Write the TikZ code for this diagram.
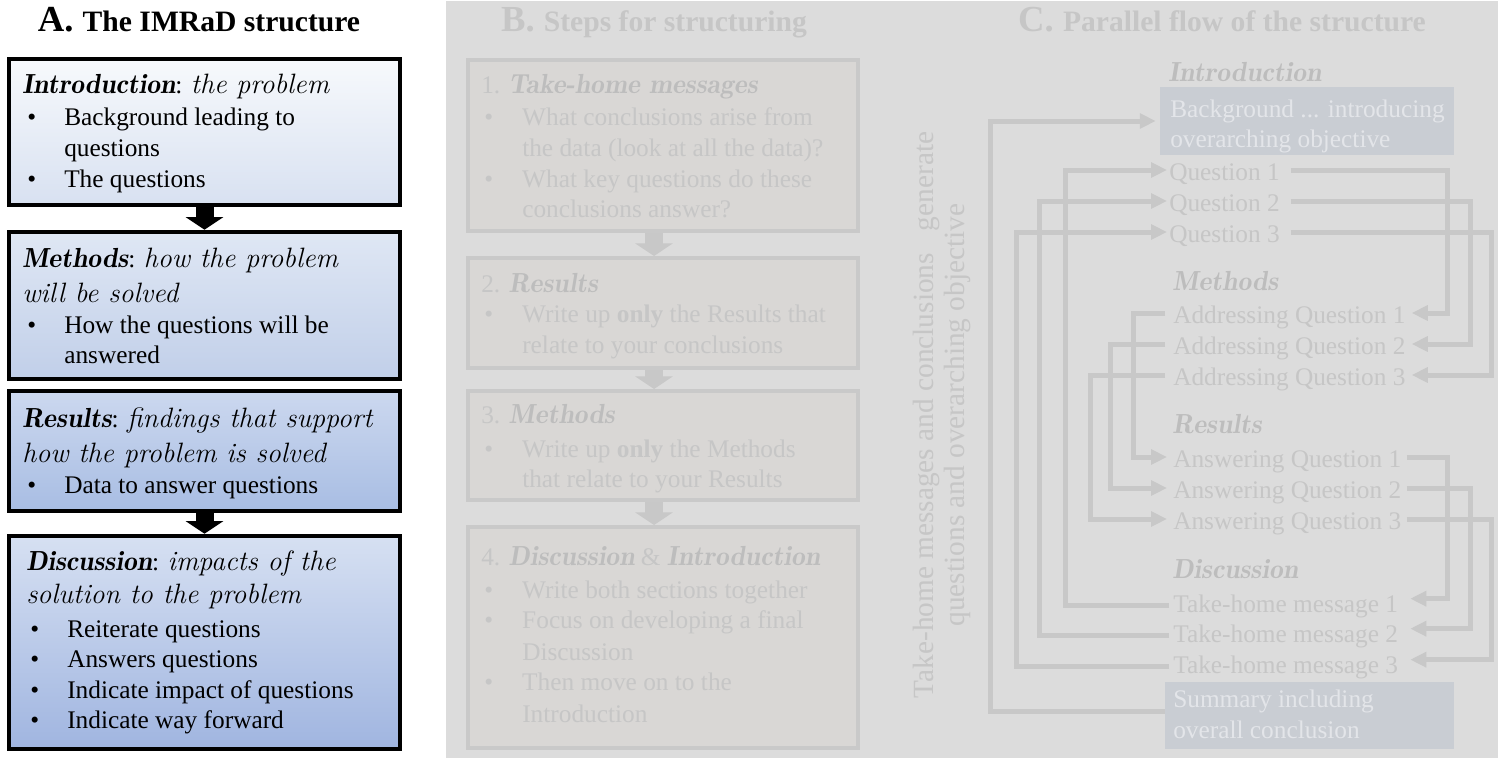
\documentclass[tikz,border=0pt]{standalone}
\usepackage{fontspec}
\setmainfont{Liberation Serif}
\usetikzlibrary{arrows.meta}
\definecolor{fadebg}{HTML}{DCDCDC}
\definecolor{fadeline}{HTML}{C8C8C8}
\definecolor{fadetxt}{HTML}{C6C6C6}
\definecolor{fadehead}{HTML}{BDBDBD}
\definecolor{fadefill}{HTML}{D9D7D5}
\definecolor{fadeborder}{HTML}{C9C9C9}
\definecolor{bluebox}{HTML}{C9CDD3}
\definecolor{bluetext}{HTML}{E3E5E9}
\definecolor{aOneT}{HTML}{F7F9FC}
\definecolor{aOneB}{HTML}{D8E1F1}
\definecolor{aTwoT}{HTML}{DFE7F4}
\definecolor{aTwoB}{HTML}{C1CFE9}
\definecolor{aThrT}{HTML}{CCD8EF}
\definecolor{aThrB}{HTML}{A8BDE3}
\definecolor{aFouT}{HTML}{D6E0F2}
\definecolor{aFouB}{HTML}{A0B5E0}
\newcommand{\bodyfont}{\fontsize{19pt}{23pt}\selectfont}
\newcommand{\itf}[1]{{\fontfamily{lmr}\fontsize{21pt}{23pt}\selectfont\itshape #1}}
\newcommand{\bi}[1]{{\fontfamily{lmr}\fontsize{20.7pt}{23pt}\selectfont\bfseries\itshape #1}}
\newcommand{\bulA}{\makebox[27.75pt][l]{\textbullet}}
\newcommand{\bulB}{\makebox[28.5pt][l]{\textbullet}}
\newcommand{\ttlfont}[2]{{\bfseries\fontsize{27.5pt}{30pt}\selectfont #1\ \fontsize{22.2pt}{25pt}\selectfont #2}}
\begin{document}
\begin{tikzpicture}[x=0.75pt,y=-0.75pt,
  txt/.style={anchor=base west, inner sep=0pt, font=\bodyfont},
  ftxt/.style={txt, text=fadetxt},
  htxt/.style={txt, text=fadehead},
  wtxt/.style={txt, text=bluetext},
  boxA/.style={draw=black, line width=3.4pt, minimum width=293.25pt, inner sep=0pt},
  boxB/.style={draw=fadeborder, fill=fadefill, line width=3pt, minimum width=292.5pt, inner sep=0pt},
  boxC/.style={fill=bluebox, inner sep=0pt},
  arrA/.style={line width=13.5pt, -{Triangle[length=9.5pt,width=28pt]}},
  arrB/.style={arrA, draw=fadeline},
  carrow/.style={draw=fadeline, line width=3.75pt, -{Triangle[length=12pt,width=11pt]}}
]
\useasboundingbox (0,0) rectangle (1498,758);
\fill[white] (0,0) rectangle (1498,758);
\fill[fadebg] (446,1) rectangle (1498,758);

% ---------------- Panel A ----------------
\node[anchor=base, inner sep=0pt] (titA) at (199,31) {\ttlfont{A.}{The IMRaD structure}};

\node[boxA, minimum height=109.5pt, top color=aOneT, bottom color=aOneB] (intro) at (204.5,132) {};
\node[boxA, minimum height=110.25pt, top color=aTwoT, bottom color=aTwoB] (meth) at (204.5,305.5) {};
\node[boxA, minimum height=90pt, top color=aThrT, bottom color=aThrB] (res) at (204.5,451) {};
\node[boxA, minimum height=159.75pt, top color=aFouT, bottom color=aFouB] (disc) at (204.5,642.5) {};

\draw[arrA] (intro.south) -- (meth.north);
\draw[arrA] (res.south) -- (disc.north);

\node[txt] (a11) at (22,93) {\bi{Introduction}: \itf{the problem}};
\node[txt] (a12) at (27,125) {\bulA Background leading to};
\node[txt] (a13) at (64,156) {questions};
\node[txt] (a14) at (27,187) {\bulA The questions};

\node[txt] (a21) at (22,267) {\bi{Methods}: \itf{how the problem}};
\node[txt] (a22) at (22,302) {\itf{will be solved}};
\node[txt] (a23) at (27,333) {\bulA How the questions will be};
\node[txt] (a24) at (64,363) {answered};

\node[txt] (a31) at (22,427) {\bi{Results}: \itf{findings that support}};
\node[txt] (a32) at (22,462) {\itf{how the problem is solved}};
\node[txt] (a33) at (27,493) {\bulA Data to answer questions};

\node[txt] (a41) at (26,570) {\bi{Discussion}: \itf{impacts of the}};
\node[txt] (a42) at (26,603) {\itf{solution to the problem}};
\node[txt] (a43) at (30,637) {\bulA Reiterate questions};
\node[txt] (a44) at (30,667) {\bulA Answers questions};
\node[txt] (a45) at (30,698) {\bulA Indicate impact of questions};
\node[txt] (a46) at (30,728) {\bulA Indicate way forward};

% ---------------- Panel B ----------------
\node[anchor=base, inner sep=0pt, text=fadetxt] (titB) at (654,31) {\ttlfont{B.}{Steps for structuring}};

\node[boxB, minimum height=128.25pt] (b1) at (663,145.5) {};
\node[boxB, minimum height=82.5pt] (b2) at (663,313) {};
\node[boxB, minimum height=81.75pt] (b3) at (663,445.5) {};
\node[boxB, minimum height=165.75pt] (b4) at (663,637.5) {};

\draw[arrB] ([xshift=-6.75pt]b1.south) -- ([xshift=-6.75pt]b2.north);
\draw[arrB] ([xshift=-6.75pt]b2.south) -- ([xshift=-6.75pt]b3.north);
\draw[arrB] ([xshift=-6.75pt]b3.south) -- ([xshift=-6.75pt]b4.north);

\node[ftxt] (b11) at (481,93) {1. {\color{fadehead}\bi{Take-home messages}}};
\node[ftxt] (b12) at (484,125) {\bulB What conclusions arise from};
\node[ftxt] (b13) at (522,156) {the data (look at all the data)?};
\node[ftxt] (b14) at (484,187) {\bulB What key questions do these};
\node[ftxt] (b15) at (522,217) {conclusions answer?};

\node[ftxt] (b21) at (481,292) {2. {\color{fadehead}\bi{Results}}};
\node[ftxt] (b22) at (484,322) {\bulB Write up \textbf{only} the Results that};
\node[ftxt] (b23) at (522,353) {relate to your conclusions};

\node[ftxt] (b31) at (481,423) {3. {\color{fadehead}\bi{Methods}}};
\node[ftxt] (b32) at (484,457) {\bulB Write up \textbf{only} the Methods};
\node[ftxt] (b33) at (522,487) {that relate to your Results};

\node[ftxt] (b41) at (481,565) {4. {\color{fadehead}\bi{Discussion}} \& {\color{fadehead}\bi{Introduction}}};
\node[ftxt] (b42) at (484,598) {\bulB Write both sections together};
\node[ftxt] (b43) at (484,628) {\bulB Focus on developing a final};
\node[ftxt] (b44) at (522,660) {Discussion};
\node[ftxt] (b45) at (484,690) {\bulB Then move on to the};
\node[ftxt] (b46) at (522,722) {Introduction};

% ---------------- Panel C ----------------
\node[anchor=base, inner sep=0pt, text=fadetxt] (titC) at (1222,31) {\ttlfont{C.}{Parallel flow of the structure}};

\node[rotate=90, align=center, inner sep=0pt, text=fadetxt, font=\fontsize{22pt}{23pt}\selectfont] (vt) at (942,415)
  {Take-home messages and conclusions\ \ \ generate\\questions and overarching objective};

\node[boxC, minimum width=220.5pt, minimum height=51pt] (bg) at (1307,121) {};
\node[boxC, minimum width=216.75pt, minimum height=50.25pt] (sum) at (1309.5,715.5) {};

\node[htxt] (hI) at (1168,81) {\bi{Introduction}};
\node[wtxt] (bg1) at (1170,117) {Background ... introducing};
\node[wtxt] (bg2) at (1170,147) {overarching objective};
\node[ftxt] (q1) at (1169,180) {Question 1};
\node[ftxt] (q2) at (1169,211) {Question 2};
\node[ftxt] (q3) at (1169,242) {Question 3};

\node[htxt] (hM) at (1172,290) {\bi{Methods}};
\node[ftxt] (m1) at (1173,323) {Addressing Question 1};
\node[ftxt] (m2) at (1173,354) {Addressing Question 2};
\node[ftxt] (m3) at (1173,385) {Addressing Question 3};

\node[htxt] (hR) at (1172,433) {\bi{Results}};
\node[ftxt] (r1) at (1173,467) {Answering Question 1};
\node[ftxt] (r2) at (1173,498) {Answering Question 2};
\node[ftxt] (r3) at (1173,529) {Answering Question 3};

\node[htxt] (hD) at (1172,578) {\bi{Discussion}};
\node[ftxt] (t1) at (1173,612) {Take-home message 1};
\node[ftxt] (t2) at (1173,642) {Take-home message 2};
\node[ftxt] (t3) at (1173,673) {Take-home message 3};
\node[wtxt] (s1) at (1173,707) {Summary including};
\node[wtxt] (s2) at (1173,738) {overall conclusion};

% vertical lanes
\coordinate (xr1) at (1447,0);
\coordinate (xr2) at (1470,0);
\coordinate (xr3) at (1491,0);
\coordinate (xl1) at (1133,0);
\coordinate (xl2) at (1110,0);
\coordinate (xl3) at (1090,0);
\coordinate (xt1) at (1065,0);
\coordinate (xt2) at (1039,0);
\coordinate (xt3) at (1016,0);
\coordinate (xs) at (990,0);

% connector end points
\foreach \n in {1,2,3}{
  \coordinate (q\n R) at ([shift={(8pt,7.5pt)}]q\n.base east);
  \coordinate (q\n L) at ([shift={(-1.5pt,7.5pt)}]q\n.base west);
  \coordinate (m\n R) at ([shift={(4.5pt,7.5pt)}]m\n.base east);
  \coordinate (m\n L) at ([shift={(-6pt,7.5pt)}]m\n.base west);
  \coordinate (r\n L) at ([shift={(-4.5pt,7.5pt)}]r\n.base west);
  \coordinate (r\n R) at ([shift={(4pt,7.5pt)}]r\n.base east);
  \coordinate (t\n R) at ([shift={(9pt,10pt)}]t\n.base east);
  \coordinate (t\n L) at ([shift={(-3pt,5pt)}]t\n.base west);
}
\coordinate (sL) at ([yshift=3pt]sum.west);
\coordinate (bgL) at ([xshift=-3pt]bg.west);

\foreach \n in {1,2,3}{
  \draw[carrow] (q\n R) -- (q\n R -| xr\n) |- (m\n R);
  \draw[carrow] (m\n L) -- (m\n L -| xl\n) |- (r\n L);
  \draw[carrow] (r\n R) -- (r\n R -| xr\n) |- (t\n R);
  \draw[carrow] (t\n L) -- (t\n L -| xt\n) |- (q\n L);
}
\draw[carrow] (sL) -- (sL -| xs) |- (bgL);
\end{tikzpicture}
\end{document}
